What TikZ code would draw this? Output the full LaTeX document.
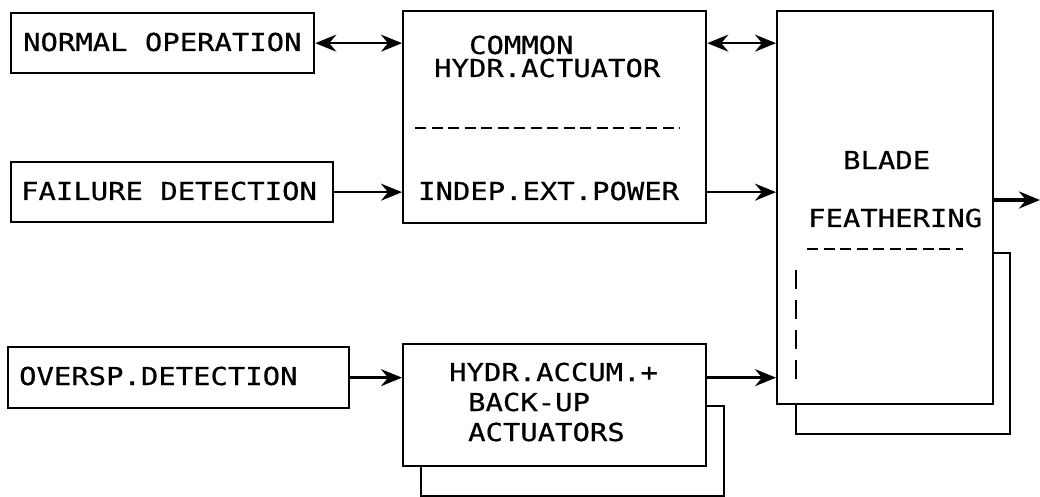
\documentclass[tikz,border=0pt]{standalone}
\usepackage{fontspec}
\usetikzlibrary{arrows.meta}
\newfontfamily\plotfont[FakeStretch=1.17,FakeBold=0.6]{DejaVu Sans Mono}

\begin{document}
\begin{tikzpicture}[x=1pt,y=-1pt,line width=2.3pt,
  font=\plotfont\fontsize{24.7pt}{30pt}\selectfont,
  box/.style={draw,fill=white,anchor=north west,inner sep=0pt},
  txt/.style={anchor=west,inner sep=0pt},
  sep/.style={dash pattern=on 11pt off 5.5pt},
  arr/.style={line width=2.6pt,-{Stealth[length=21pt 0 0,width=17pt 0 0,inset=7pt]}},
  dbl/.style={line width=2.6pt,{Stealth[length=21pt 0 0,width=17pt 0 0,inset=7pt]}-{Stealth[length=21pt 0 0,width=17pt 0 0,inset=7pt]}}]
\useasboundingbox (0,0) rectangle (1040,496);
% inputs
\node[box,minimum width=303pt,minimum height=60pt] (normal) at (10,12) {};
\node[txt] (normaltxt) at (22,42) {NORMAL OPERATION};
\node[box,minimum width=322pt,minimum height=60pt] (failure) at (10,161) {};
\node[txt] (failuretxt) at (20,191) {FAILURE DETECTION};
\node[box,minimum width=341pt,minimum height=61pt] (oversp) at (7,346) {};
\node[txt] (oversptxt) at (18,376) {OVERSP.DETECTION};
% actuators
\node[box,minimum width=303pt,minimum height=212pt] (common) at (402,10) {};
\node[txt] (commontxt) at (468,45) {COMMON};
\node[txt] (actuatortxt) at (433,68) {HYDR.ACTUATOR};
\draw[sep] (415,128) -- (680,128);
\node[txt] (powertxt) at (417,191) {INDEP.EXT.POWER};
\node[box,minimum width=303pt,minimum height=90pt] (hydrback) at (420,405) {};
\node[box,minimum width=303pt,minimum height=122pt] (hydr) at (402,343) {};
\node[txt] (accumtxt) at (448,372) {HYDR.ACCUM.+};
\node[txt] (backuptxt) at (467,402) {BACK-UP};
\node[txt] (backacttxt) at (467,432) {ACTUATORS};
% blades
\node[box,minimum width=214pt,minimum height=181pt] (bladeback) at (795,252) {};
\node[box,minimum width=216pt,minimum height=393pt] (blade) at (776,10) {};
\node[txt] (bladetxt) at (842,160) {BLADE};
\node[txt] (feathertxt) at (807,218) {FEATHERING};
\draw[sep] (807,249) -- (963,249);
\draw[dash pattern=on 19pt off 11pt] (796,270) -- (796,382);
% connectors
\draw[dbl] (normal.east) -- (normal.east -| common.west);
\draw[dbl] (normal.east -| common.east) -- (normal.east -| blade.west);
\draw[arr] (failure.east) -- (failure.east -| common.west);
\draw[arr] (failure.east -| common.east) -- (failure.east -| blade.west);
\draw[arr] (oversp.east) -- (oversp.east -| hydr.west);
\draw[arr] (oversp.east -| hydr.east) -- (oversp.east -| blade.west);
\coordinate (out) at (1040,200);
\draw[arr,line width=3.8pt] (blade.east |- out) -- (out);
\end{tikzpicture}
\end{document}
